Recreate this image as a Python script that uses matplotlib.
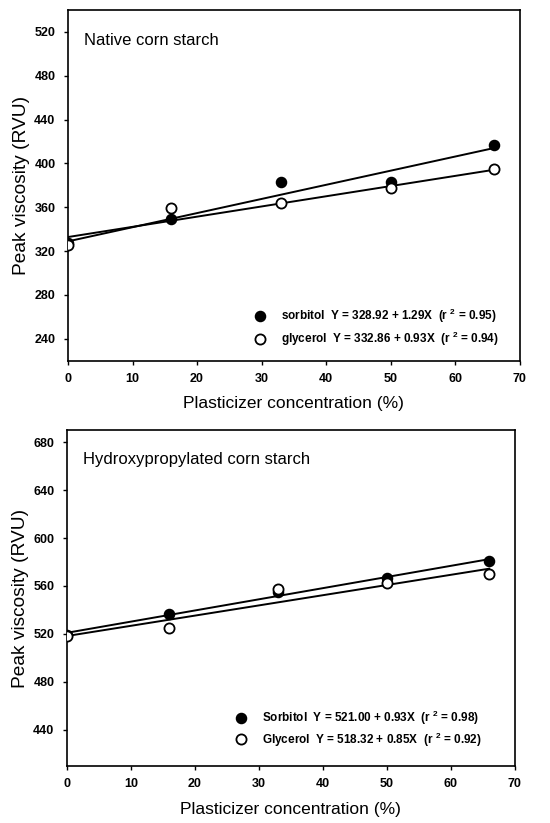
import matplotlib
matplotlib.use("Agg")
import matplotlib.pyplot as plt
import numpy as np

plt.rcParams['font.family'] = ['Liberation Sans', 'DejaVu Sans']
plt.rcParams['mathtext.default'] = 'regular'

conc = [0, 16, 33, 50, 66]

native_sorbitol = [327, 349.5, 383, 383.5, 416.5]
native_glycerol = [326, 359, 363.5, 378, 395]
hp_sorbitol = [519, 537, 555, 566.5, 581]
hp_glycerol = [518.5, 525, 557.5, 562.5, 570]

native_fit = {"sorbitol": (328.92, 1.29), "glycerol": (332.86, 0.93)}
hp_fit = {"Sorbitol": (521.00, 0.93), "Glycerol": (518.32, 0.85)}
native_r2 = {"sorbitol": "0.95", "glycerol": "0.94"}
hp_r2 = {"Sorbitol": "0.98", "Glycerol": "0.92"}

fig = plt.figure(figsize=(5.5, 8.23), dpi=100)
ax1 = fig.add_axes([0.1236, 0.5617, 0.8214, 0.4261])
ax2 = fig.add_axes([0.1218, 0.0693, 0.8142, 0.4082])


def panel(ax, title, sorb, glyc, fits, r2s, ylim, yticks, leg_x, leg_y, spacing):
    names = list(fits.keys())
    xs = np.array([conc[0], conc[-1]])
    for name in names:
        a, b = fits[name]
        ax.plot(xs, a + b * xs, color='black', lw=1.4, zorder=2)
    h1, = ax.plot(conc, sorb, 'o', color='black', ms=7.3, mfc='black', mec='black', zorder=3)
    h2, = ax.plot(conc, glyc, 'o', color='black', ms=7.3, mfc='white', mec='black', mew=1.3, zorder=4)
    labels = []
    for name in names:
        a, b = fits[name]
        labels.append(f"{name}  Y = {a:.2f} + {b:.2f}X  (r $^{{2}}$ = {r2s[name]})")
    ax.legend([h1, h2], labels, loc='lower right', bbox_to_anchor=(leg_x, leg_y),
              frameon=False, prop={'size': 8.5, 'weight': 'bold'},
              handletextpad=1.3, labelspacing=spacing, handlelength=1.0)
    ax.set_xlim(0, 70)
    ax.set_ylim(*ylim)
    ax.set_xticks(range(0, 71, 10))
    ax.set_yticks(yticks)
    ax.tick_params(direction='out', length=3, width=1, labelsize=9, pad=6)
    for lab in ax.get_xticklabels() + ax.get_yticklabels():
        lab.set_fontweight('bold')
    for s in ax.spines.values():
        s.set_linewidth(1.2)
    ax.set_xlabel('Plasticizer concentration (%)', fontsize=12.5, labelpad=8)
    ax.set_ylabel('Peak viscosity (RVU)', fontsize=13.8, labelpad=3)
    ax.text(0.035, 0.935, title, transform=ax.transAxes, fontsize=12, va='top', ha='left')


panel(ax1, 'Native corn starch', native_sorbitol, native_glycerol, native_fit, native_r2,
      (220, 540), range(240, 521, 40), 0.978, 0.005, 0.45)
panel(ax2, 'Hydroxypropylated corn starch', hp_sorbitol, hp_glycerol, hp_fit, hp_r2,
      (410, 690), range(440, 681, 40), 0.951, 0.02, 0.25)

fig.savefig('out.png', dpi=100)
